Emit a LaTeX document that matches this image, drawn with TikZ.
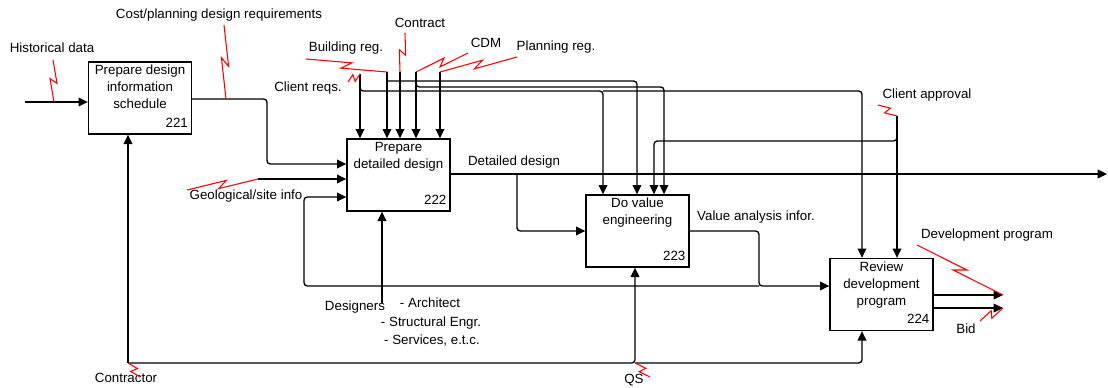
\documentclass[tikz,border=0pt]{standalone}
\usepackage{fontspec}
\setmainfont{Liberation Sans}
\usetikzlibrary{arrows.meta,calc}
\tikzset{
  proc/.style={draw,line width=1pt,minimum width=77.25pt,minimum height=54pt,inner sep=0pt},
  wire/.style={line width=1pt,rounded corners=2.5pt},
  flow/.style={wire,-{Triangle[length=7pt,width=6.5pt]}},
  zap/.style={red,line width=0.8pt},
  lbl/.style={inner sep=0pt,font=\fontsize{10}{12.75}\selectfont},
}
\newcommand{\zap}[2]{\draw[zap] (#1) -- ($(#1)!.56!(#2)!2.6pt!90:(#2)$) -- ($(#1)!.44!(#2)!2.6pt!-90:(#2)$) -- (#2);}
\begin{document}
\begin{tikzpicture}[x=0.75pt,y=-0.75pt]
\useasboundingbox (0,0) rectangle (1108,387);
\node[proc] (p221) at (140,98) {};
\node[proc] (p222) at (398.5,175) {};
\node[proc] (p223) at (637.5,231) {};
\node[proc] (p224) at (881.5,294.5) {};
\node[lbl,align=center,anchor=north] (t221) at ([yshift=-2.7pt]p221.north) {Prepare design\\information\\schedule};
\node[lbl,align=center,anchor=north] (t222) at ([yshift=-2.7pt]p222.north) {Prepare\\detailed design};
\node[lbl,align=center,anchor=north] (t223) at ([yshift=-2.2pt]p223.north) {Do value\\engineering};
\node[lbl,align=center,anchor=north] (t224) at ([yshift=-2.7pt]p224.north) {Review\\development\\program};
\foreach \b in {221,222,223,224}
  \node[lbl,anchor=south east] (n\b) at ([shift={(-3pt,5.4pt)}]p\b.south east) {\b};
\node[lbl] (hist) at (52,48) {Historical data};
\node[lbl] (cost) at (219,15) {Cost/planning design requirements};
\node[lbl] (bldg) at (346,48) {Building reg.};
\node[lbl] (contr) at (420,23) {Contract};
\node[lbl] (cdm) at (486,43) {CDM};
\node[lbl] (plan) at (556,47) {Planning reg.};
\node[lbl] (creq) at (308,88) {Client reqs.};
\node[lbl] (capp) at (927,95) {Client approval};
\node[lbl] (dd) at (514,162) {Detailed design};
\node[lbl] (va) at (756,217) {Value analysis infor.};
\node[lbl] (devp) at (987,235) {Development program};
\node[lbl] (bid) at (966,329) {Bid};
\node[lbl] (geo) at (246,196) {Geological/site info};
\node[lbl] (des) at (355,307) {Designers};
\node[lbl] (arch) at (430,303) {- Architect};
\node[lbl] (strc) at (431,323) {- Structural Engr.};
\node[lbl] (serv) at (432,341) {- Services, e.t.c.};
\node[lbl] (ctr) at (126,378) {Contractor};
\node[lbl] (qs) at (634,380) {QS};
% line ends and branch points
\coordinate (hi0) at (25,102); \coordinate (hi1) at (54,102); \coordinate (hiz) at (53,60);
\coordinate (co1) at (226,99); \coordinate (co2) at (267,164); \coordinate (coz) at (224,25);
\coordinate (ge0) at (258,179); \coordinate (gez) at (187,190);
\coordinate (cr0) at (360,74); \coordinate (cr1) at (603,91); \coordinate (crz) at (348,82);
\coordinate (br0) at (387,72); \coordinate (br1) at (637,81); \coordinate (brz) at (306,59);
\coordinate (ct0) at (400,72); \coordinate (ctz) at (405,33);
\coordinate (cd0) at (416,72); \coordinate (cd1) at (664,87); \coordinate (cdz) at (468,53);
\coordinate (pl0) at (440,72); \coordinate (plz) at (517,57);
\coordinate (ca0) at (897,116); \coordinate (ca1) at (654,141); \coordinate (caz) at (878,105);
\coordinate (dd1) at (517,174); \coordinate (dd2) at (1107,174);
\coordinate (va1) at (759,286); \coordinate (fb1) at (304,197);
\coordinate (bt0) at (128,363); \coordinate (bt1) at (635,363); \coordinate (bt2) at (862,363);
\coordinate (qsz) at (650,377); \coordinate (ctrz) at (140,377);
\coordinate (de0) at (382,303);
\coordinate (o1) at (1003,295); \coordinate (o2) at (1003,308);
\coordinate (dpz) at (917,245); \coordinate (biz) at (980,321);
% 221
\draw[flow] (hi0) -- (hi0 -| p221.west);
\draw[flow] (p221.east |- co1) -| (co2) -- (co2 -| p222.west);
\draw[flow] (bt0) -- (bt0 |- p221.south);
% 222
\draw[flow] (ge0) -- (ge0 -| p222.west);
\draw[flow] (cr0) -- (cr0 |- p222.north);
\draw[flow] (br0) -- (br0 |- p222.north);
\draw[flow] (ct0) -- (ct0 |- p222.north);
\draw[flow] (cd0) -- (cd0 |- p222.north);
\draw[flow] (pl0) -- (pl0 |- p222.north);
\draw[flow] (de0) -- (de0 |- p222.south);
\draw[flow] (va1) -| (fb1) -- (fb1 -| p222.west);
% 223
\draw[flow] (cr0) |- (cr1) -- (cr1 |- p223.north);
\draw[flow] (br0 |- br1) -- (br1) -- (br1 |- p223.north);
\draw[flow] (cd0 |- br1) |- (cd1) -- (cd1 |- p223.north);
\draw[flow] (ca0) |- (ca1) -- (ca1 |- p223.north);
\draw[flow] (p222.east |- dd1) -- (dd2);
\draw[flow] (dd1) |- (dd1 |- p223.west) -- (p223.west);
\draw[flow] (bt0) -- (bt1) -- (bt1 |- p223.south);
% 224
\draw[flow] (cr1) -| (p224.north -| bt2);
\draw[flow] (ca0) -- (ca0 |- p224.north);
\draw[flow] (p223.east) -| (va1) -- (va1 -| p224.west);
\draw[flow] (bt1) -| (bt2 |- p224.south);
\draw[flow] (p224.east |- o1) -- (o1);
\draw[flow] (p224.east |- o2) -- (o2);
% lightning marks
\zap{hiz}{hi1} \zap{coz}{co1} \zap{gez}{ge0} \zap{crz}{cr0} \zap{brz}{br0}
\zap{ctz}{ct0} \zap{cdz}{cd0} \zap{plz}{pl0} \zap{caz}{ca0}
\zap{dpz}{o1} \zap{biz}{o2} \zap{bt0}{ctrz} \zap{bt1}{qsz}
\end{tikzpicture}
\end{document}
